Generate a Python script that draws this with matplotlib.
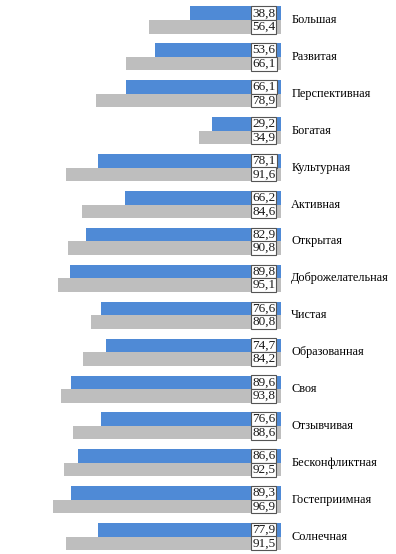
import matplotlib.pyplot as plt
import numpy as np

categories = ['Большая', 'Развитая', 'Перспективная', 'Богатая', 'Культурная',
              'Активная', 'Открытая', 'Доброжелательная', 'Чистая', 'Образованная',
              'Своя', 'Отзывчивая', 'Бесконфликтная', 'Гостеприимная', 'Солнечная']
blue_vals = [38.8, 53.6, 66.1, 29.2, 78.1, 66.2, 82.9, 89.8, 76.6, 74.7,
             89.6, 76.6, 86.6, 89.3, 77.9]
gray_vals = [56.4, 66.1, 78.9, 34.9, 91.6, 84.6, 90.8, 95.1, 80.8, 84.2,
             93.8, 88.6, 92.5, 96.9, 91.5]

plt.rcParams['font.family'] = ['Liberation Serif', 'DejaVu Serif']

fig = plt.figure(figsize=(3.96, 5.54), dpi=100)
ax = fig.add_axes([0, 0, 1, 1])

y = np.arange(len(categories))
h = 0.366
ax.barh(y - h / 2, blue_vals, height=h, color='#4F8AD6')
ax.barh(y + h / 2, gray_vals, height=h, color='#BEBEBE')

# value boxes at the right end of the bars
for i in range(len(categories)):
    for yy, v in ((y[i] - h / 2, blue_vals[i]), (y[i] + h / 2, gray_vals[i])):
        ax.text(7.3, yy, f'{v:.1f}'.replace('.', ','), ha='center', va='center',
                fontsize=9.5, color='#1a1a1a',
                bbox=dict(boxstyle='square,pad=0.07', fc='white', ec='#555555', lw=0.8))
    ax.text(-4.3, y[i], categories[i], ha='left', va='center', fontsize=8.8, color='black')

ax.set_xlim(119.6, -48.9)
ax.set_ylim(14.47, -0.542)
ax.axis('off')

fig.savefig('out.png', dpi=100)
